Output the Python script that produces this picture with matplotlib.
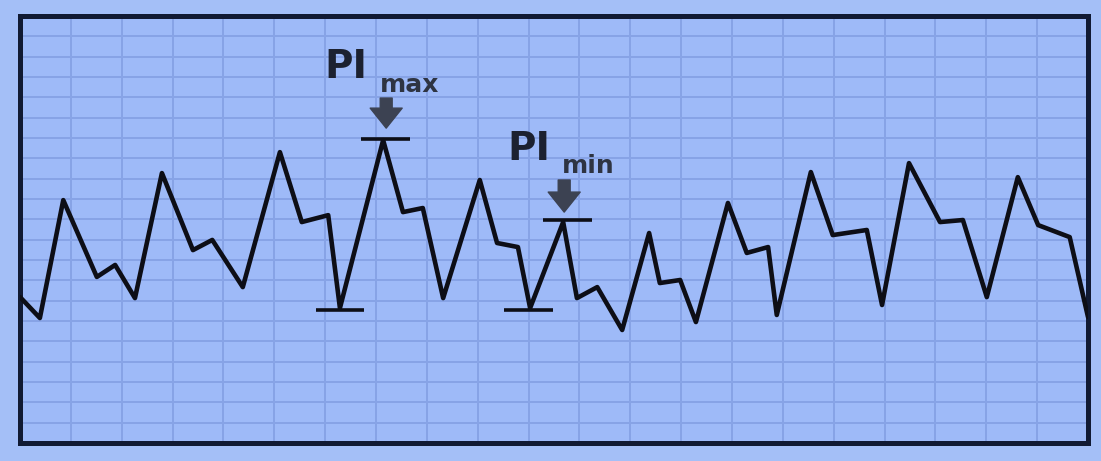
import matplotlib
matplotlib.use("Agg")
import matplotlib.pyplot as plt

# waveform (grid units, box is 21 x 21 squares)
wave_x = [0.00, 0.39, 0.85, 1.51, 1.87, 2.26, 2.79, 3.40, 3.78, 4.38,
          5.11, 5.54, 6.06, 6.29, 7.14, 7.53, 7.92, 8.32, 9.04, 9.38,
          9.79, 10.03, 10.68, 10.95, 11.35, 11.84, 12.37, 12.58, 12.98, 13.29,
          13.92, 14.29, 14.71, 14.88, 15.55, 15.98, 16.65, 16.95, 17.48, 18.09,
          18.54, 19.01, 19.62, 20.02, 20.64, 21.00]
wave_y = [7.18, 6.15, 11.95, 8.17, 8.76, 7.13, 13.28, 9.49, 9.99, 7.67,
          14.31, 10.87, 11.21, 6.64, 14.90, 11.36, 11.56, 7.13, 12.94, 9.84,
          9.64, 6.64, 10.87, 7.13, 7.67, 5.56, 10.33, 7.87, 8.02, 5.95,
          11.81, 9.35, 9.64, 6.30, 13.33, 10.23, 10.48, 6.79, 13.77, 10.87,
          10.97, 7.18, 13.08, 10.72, 10.13, 6.20]

# PI markers: trough / peak bars, arrows and labels
bar_x = [6.29, 7.18, 10.00, 10.76]
bar_y = [6.54, 14.95, 6.54, 10.97]
arrow_x = [7.20, 10.70]
arrow_top = [16.97, 12.94]
arrow_tip = [15.49, 11.36]
label_sub = ["max", "min"]
label_x = [5.98, 9.58]
label_y = [17.95, 13.92]
sub_x = [7.08, 10.66]
sub_y = [17.26, 13.28]

fig = plt.figure(figsize=(11.01, 4.61), dpi=100, facecolor="#a4bff7")
ax = fig.add_axes([0.0182, 0.039, 0.970, 0.926])
ax.set_facecolor("#9ebaf8")

ax.set_xlim(0, 21)
ax.set_ylim(0, 21)
ax.set_xticks(range(1, 21))
ax.set_yticks(range(1, 21))
ax.tick_params(length=0, labelbottom=False, labelleft=False)
ax.grid(True, color="#87a3e6", lw=1.4)
for s in ax.spines.values():
    s.set_linewidth(3.6)
    s.set_color("#111a33")

ax.plot(wave_x, wave_y, color="#0d0e16", lw=3.3, solid_joinstyle="round",
        solid_capstyle="round", zorder=3)

ax.hlines(bar_y, [b - 0.48 for b in bar_x], [b + 0.48 for b in bar_x],
          color="#0d0e16", lw=2.6, zorder=3)

for i in range(2):
    ax.annotate("", xy=(arrow_x[i], arrow_tip[i]), xytext=(arrow_x[i], arrow_top[i]),
                arrowprops=dict(arrowstyle="simple,head_length=0.72,head_width=1.15,tail_width=0.43",
                                color="#3c4252", shrinkA=0, shrinkB=0, mutation_scale=20),
                zorder=4)
    ax.text(label_x[i], label_y[i], "PI", fontsize=28, fontweight="bold",
            color="#1c2130", ha="left", va="baseline")
    ax.text(sub_x[i], sub_y[i], label_sub[i], fontsize=18, fontweight="bold",
            color="#2e3442", ha="left", va="baseline")

fig.savefig("out.png", dpi=100, facecolor=fig.get_facecolor())
